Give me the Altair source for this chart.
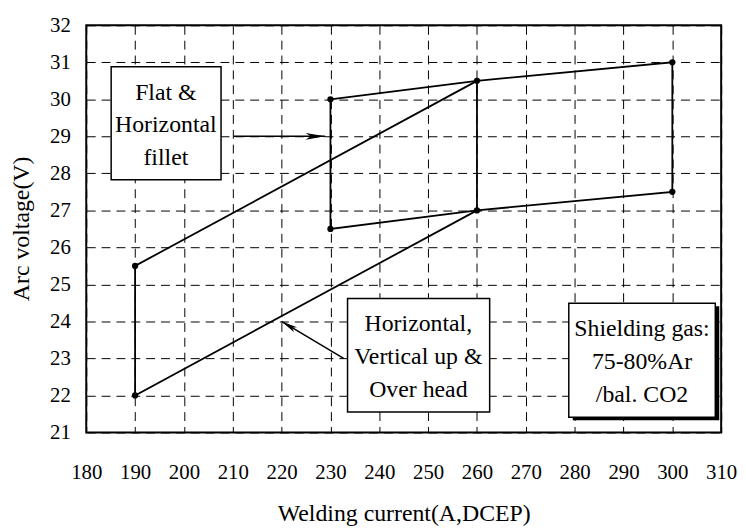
import altair as alt
import pandas as pd

# ---- data ----
x_ticks = list(range(180, 311, 10))
y_ticks = list(range(21, 33))

# Flat & Horizontal fillet envelope
flat_x = [230, 260, 300, 300, 260, 230, 230]
flat_y = [30, 30.5, 31, 27.5, 27, 26.5, 30]
# Horizontal, Vertical up & Over head envelope
pos_x = [260, 190, 190, 260, 260]
pos_y = [30.5, 25.5, 22, 27, 30.5]

pts_x = [190, 190, 230, 230, 260, 260, 300, 300]
pts_y = [25.5, 22, 30, 26.5, 30.5, 27, 31, 27.5]

box_text = ["Flat &\nHorizontal\nfillet",
            "Horizontal,\nVertical up &\nOver head",
            "Shielding gas:\n75-80%Ar\n/bal. CO2"]

# ---- annotation layout (data coordinates) ----
box_x1 = [185.1, 233.5, 278.8]
box_x2 = [207.6, 262.6, 308.8]
box_y1 = [27.83, 21.55, 21.41]
box_y2 = [30.88, 24.62, 24.49]
text_x = [196.3, 248.0, 293.8]
text_y = [30.18, 23.92, 23.78]   # first line of each box

arrow_x1 = [210.2, 232.7]
arrow_y1 = [29.0, 23.0]
arrow_x2 = [228.9, 220.0]
arrow_y2 = [29.0, 24.0]
arrow_angle = [90, 301]
arrow_size = [600, 420]

FONT = "Liberation Serif"

lines = pd.concat([
    pd.DataFrame({"x": flat_x, "y": flat_y, "g": "flat", "o": range(len(flat_x))}),
    pd.DataFrame({"x": pos_x, "y": pos_y, "g": "pos", "o": range(len(pos_x))}),
])
pts = pd.DataFrame({"x": pts_x, "y": pts_y})
boxes = pd.DataFrame({"x1": box_x1, "x2": box_x2, "y1": box_y1, "y2": box_y2,
                      "tx": text_x, "ty": text_y, "t": box_text})
arrows = pd.DataFrame({"x1": arrow_x1, "y1": arrow_y1, "x2": arrow_x2, "y2": arrow_y2,
                       "a": arrow_angle, "s": arrow_size})

xs = alt.Scale(domain=[180, 310], nice=False, zero=False)
ys = alt.Scale(domain=[21, 32], nice=False, zero=False)

x_axis = alt.Axis(values=x_ticks, title="Welding current(A,DCEP)", labelPadding=30,
                  titleY=89, titleBaseline="alphabetic")
y_axis = alt.Axis(values=y_ticks, title="Arc voltage(V)", labelPadding=16,
                  titleAngle=270, titleX=-58, titleY=205, titleAlign="center",
                  titleBaseline="alphabetic")

X = lambda f: alt.X(f, scale=xs, axis=x_axis)
Y = lambda f: alt.Y(f, scale=ys, axis=y_axis)

base_lines = alt.Chart(lines).mark_line(color="black", strokeWidth=1.8).encode(
    x=X("x:Q"), y=Y("y:Q"), detail="g:N", order="o:Q")

points = alt.Chart(pts).mark_point(filled=True, color="black", size=40, opacity=1).encode(
    x=X("x:Q"), y=Y("y:Q"))

shadow = alt.Chart(boxes.iloc[[2]]).mark_rect(color="black", xOffset=4, yOffset=3,
                                              x2Offset=4, y2Offset=3).encode(
    x=X("x1:Q"), x2="x2:Q", y=Y("y1:Q"), y2="y2:Q")

rects = alt.Chart(boxes).mark_rect(fill="white", stroke="black", strokeWidth=1.5).encode(
    x=X("x1:Q"), x2="x2:Q", y=Y("y1:Q"), y2="y2:Q")

texts = alt.Chart(boxes).mark_text(font=FONT, fontSize=24, lineBreak="\n", lineHeight=33,
                                   align="center", baseline="middle", color="black").encode(
    x=X("tx:Q"), y=Y("ty:Q"), text="t:N")

shafts = alt.Chart(arrows).mark_rule(color="black", strokeWidth=1.5).encode(
    x=X("x1:Q"), x2="x2:Q", y=Y("y1:Q"), y2="y2:Q")

heads = alt.Chart(arrows).mark_point(
    shape="M0,0L0.28,1.6L0,1.2L-0.28,1.6Z", filled=True, color="black", opacity=1
).encode(
    x=X("x2:Q"), y=Y("y2:Q"),
    angle=alt.Angle("a:Q", scale=None),
    size=alt.Size("s:Q", scale=None),
)

chart = alt.layer(base_lines, points, shadow, rects, texts, shafts, heads).properties(
    width=641, height=411,
    background="white",
    autosize=alt.AutoSizeParams(type="none"),
    padding={"left": 79, "top": 15, "right": 17, "bottom": 95},
).configure_view(
    stroke="black", strokeWidth=2
).configure_axis(
    grid=True, gridDash=[9, 6], gridColor="black", gridOpacity=1, gridWidth=1,
    ticks=False, domain=False, labelFlush=False, labelOverlap=False, labelBound=False,
    labelFontSize=21, labelColor="black", labelFont=FONT,
    titleFontSize=24, titleFont=FONT, titleFontWeight="normal", titleColor="black",
).configure_text(font=FONT)

chart.save("out.html", embed_options={"renderer": "svg", "actions": False})
